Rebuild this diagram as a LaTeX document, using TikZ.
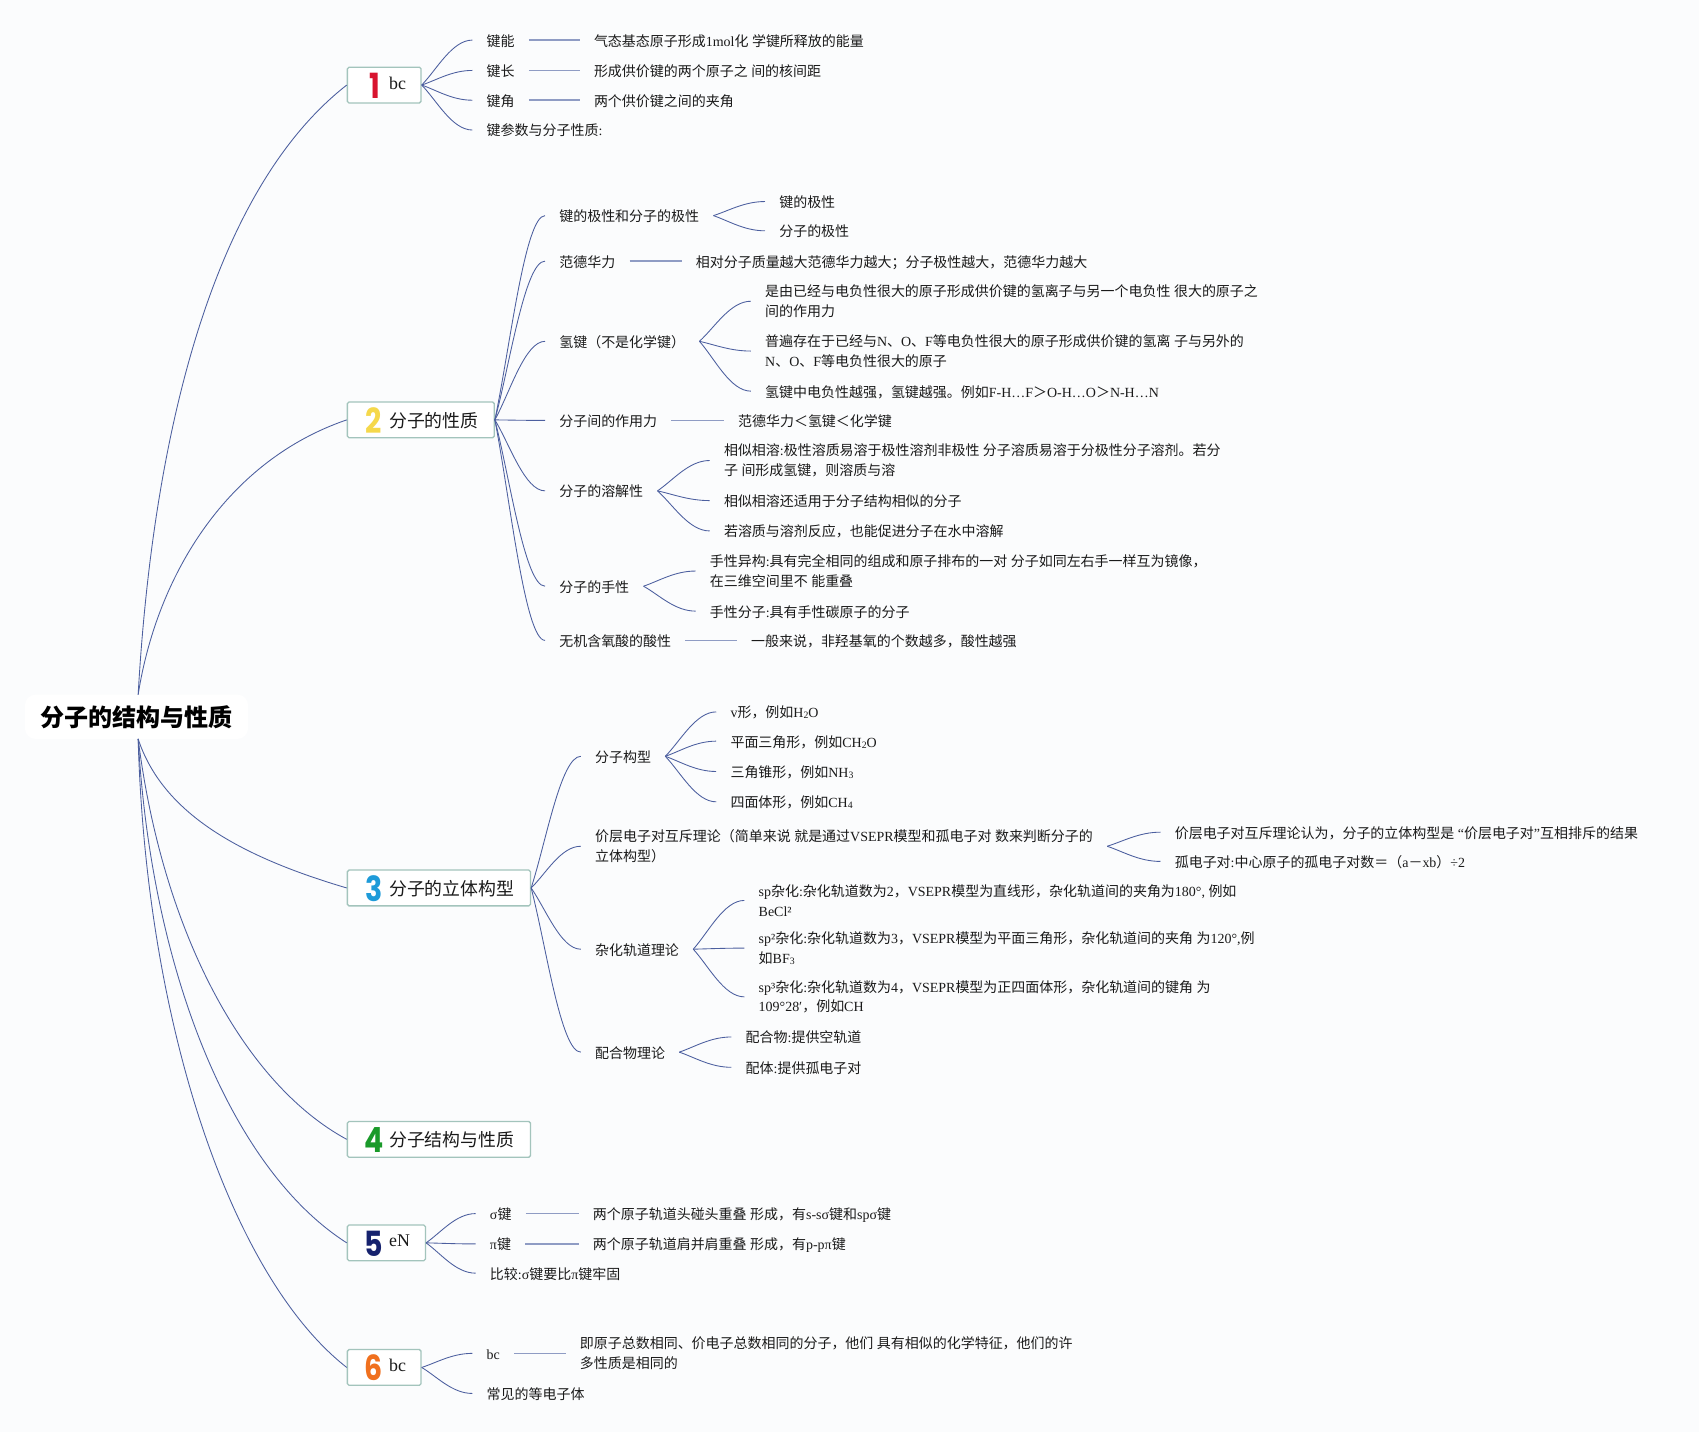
\documentclass[tikz,border=0pt]{standalone}
\usepackage{fontspec}
\usepackage{graphicx}
\usetikzlibrary{calc}
\setmainfont{Liberation Serif}
\newfontfamily\cjk{Noto Sans CJK SC}
\newfontfamily\numf{Poppins}
\XeTeXinterchartokenstate=1
\chardef\cjkcl=10
\newcount\cc
\cc="2E80 \loop\ifnum\cc<"A000 \XeTeXcharclass\cc=\cjkcl \advance\cc by 1 \repeat
\cc="FF00 \loop\ifnum\cc<"FFF0 \XeTeXcharclass\cc=\cjkcl \advance\cc by 1 \repeat
\XeTeXinterchartoks 0 \cjkcl={\cjk}
\XeTeXinterchartoks 1 \cjkcl={\cjk}
\XeTeXinterchartoks 2 \cjkcl={\cjk}
\XeTeXinterchartoks 3 \cjkcl={\cjk}
\XeTeXinterchartoks 4095 \cjkcl={\cjk}
\XeTeXinterchartoks \cjkcl 0={\rmfamily}
\XeTeXinterchartoks \cjkcl 1={\rmfamily}
\XeTeXinterchartoks \cjkcl 2={\rmfamily}
\XeTeXinterchartoks \cjkcl 3={\rmfamily}
\XeTeXinterchartoks \cjkcl 4095={\rmfamily}
\definecolor{bgc}{HTML}{FBFCFD}
\definecolor{linec}{HTML}{4C5F9F}
\definecolor{strc}{HTML}{8F9CC4}
\definecolor{boxc}{HTML}{A3C4BC}
\definecolor{txtc}{HTML}{1A1A1A}
\definecolor{n1}{HTML}{D8142F}
\definecolor{n2}{HTML}{F5D84B}
\definecolor{n3}{HTML}{1E9BD9}
\definecolor{n4}{HTML}{1A9A2A}
\definecolor{n5}{HTML}{16226E}
\definecolor{n6}{HTML}{F0701E}
\newcommand\lsub[1]{\raisebox{-1pt}{\fontsize{9}{9}\selectfont #1}}
\newcommand\dg[1]{\scalebox{.82}[1]{#1}}
\tikzset{
 tx/.style={anchor=west,xshift=-13pt,inner xsep=13pt,inner ysep=0pt,align=left,text=txtc,
   font=\fontsize{12.9}{18}\selectfont,text height=14pt,text depth=3pt},
 txm/.style={tx,text height={},text depth={}},
 bx/.style={draw=boxc,fill=white,line width=1.2pt,rounded corners=1.5pt,anchor=west,inner sep=0pt,minimum height=33pt},
 bl/.style={anchor=west,inner sep=0pt,text=txtc,font=\fontsize{16.5}{18}\selectfont,text height=12pt,text depth=3pt},
 numn/.style={inner sep=0pt,font=\fontsize{32}{32}\numf\bfseries\selectfont},
 conn/.style={draw=linec,line width=0.8pt},
 strline/.style={draw=strc,line width=1.4pt},
}
\newcommand\cv[2]{\draw[conn] let \p1=(#1.east),\p2=(#2.west),\n1={\x2-\x1},\n2={\y2-\y1} in
  (\p1) .. controls (\x1+.3*\n1,\y1+.35*\n2) and (\x1+.6*\n1,\y2) .. (\p2);}
\newcommand\st[2]{\draw[strline] (#1.east) -- (#2.west);}
\begin{document}
\begin{tikzpicture}[x=1pt,y=-1pt]
\useasboundingbox[fill=bgc] (0,0) rectangle (1568,1321.5);
% root
\node[fill=white,rounded corners=10pt,minimum width=206pt,minimum height=41pt,inner sep=0pt,
  font=\fontsize{22.2}{26}\bfseries\selectfont] (root) at (126,661.5) {分子的结构与性质};
\coordinate (rt) at (127.5,641);
\coordinate (rb) at (127.5,682);
% main boxes
\node[bx,minimum width=68pt] (b1) at (320,78.5) {};
\node[bx,minimum width=135.5pt] (b2) at (320,387.5) {};
\node[bx,minimum width=169pt] (b3) at (320,819.5) {};
\node[bx,minimum width=169pt] (b4) at (320,1051.5) {};
\node[bx,minimum width=72pt] (b5) at (320,1147) {};
\node[bx,minimum width=68pt] (b6) at (320,1262) {};
\node[numn,text=n1] (d1) at (345.5,79) {\dg{1}};
\node[numn,text=n2] (d2) at (345,388) {\dg{2}};
\node[numn,text=n3] (d3) at (345,820) {\dg{3}};
\node[numn,text=n4] (d4) at (345,1052) {\dg{4}};
\node[numn,text=n5] (d5) at (345,1147.5) {\dg{5}};
\node[numn,text=n6] (d6) at (345,1262.5) {\dg{6}};
\node[bl] (l1) at (359,78) {bc};
\node[bl] (l2) at (359,390) {分子的性质};
\node[bl] (l3) at (359,822) {分子的立体构型};
\node[bl] (l4) at (359,1054) {分子结构与性质};
\node[bl] (l5) at (359,1146) {eN};
\node[bl] (l6) at (359,1261) {bc};
% root connectors
\draw[conn] (rt) .. controls (140,420) and (190,180) .. (b1.west);
\draw[conn] (rt) .. controls (145,530) and (210,425) .. (b2.west);
\draw[conn] (rb) .. controls (150,750) and (220,790) .. (b3.west);
\draw[conn] (rb) .. controls (150,860) and (225,1000) .. (b4.west);
\draw[conn] (rb) .. controls (140,900) and (215,1080) .. (b5.west);
\draw[conn] (rb) .. controls (135,950) and (215,1180) .. (b6.west);
% branch 1
\node[tx] (a1) at (449,37) {键能};
\node[tx] (a2) at (449,65) {键长};
\node[tx] (a3) at (449,92.5) {键角};
\node[tx] (a4) at (449,120) {键参数与分子性质:};
\node[tx] (a1v) at (548,37) {气态基态原子形成1mol化 学键所释放的能量};
\node[tx] (a2v) at (548,65) {形成供价键的两个原子之 间的核间距};
\node[tx] (a3v) at (548,92.5) {两个供价键之间的夹角};
\cv{b1}{a1}\cv{b1}{a2}\cv{b1}{a3}\cv{b1}{a4}
\st{a1}{a1v}\st{a2}{a2v}\st{a3}{a3v}
% branch 2
\node[tx] (c1) at (516,199) {键的极性和分子的极性};
\node[tx] (c2) at (516,241) {范德华力};
\node[tx] (c3) at (516,315) {氢键（不是化学键）};
\node[tx] (c4) at (516,388) {分子间的作用力};
\node[tx] (c5) at (516,453) {分子的溶解性};
\node[tx] (c6) at (516,541) {分子的手性};
\node[tx] (c7) at (516,591) {无机含氧酸的酸性};
\node[tx] (c1a) at (719,186) {键的极性};
\node[tx] (c1b) at (719,213) {分子的极性};
\node[tx] (c2v) at (642,241) {相对分子质量越大范德华力越大；分子极性越大，范德华力越大};
\node[txm] (c3a) at (706,278) {是由已经与电负性很大的原子形成供价键的氢离子与另一个电负性 很大的原子之\\间的作用力};
\node[txm] (c3b) at (706,324) {普遍存在于已经与N、O、F等电负性很大的原子形成供价键的氢离 子与另外的\\N、O、F等电负性很大的原子};
\node[tx] (c3c) at (706,361) {氢键中电负性越强，氢键越强。例如F-H…F＞O-H…O＞N-H…N};
\node[tx] (c4v) at (681,388) {范德华力＜氢键＜化学键};
\node[txm] (c5a) at (668,425) {相似相溶:极性溶质易溶于极性溶剂非极性 分子溶质易溶于分极性分子溶剂。若分\\子 间形成氢键，则溶质与溶};
\node[tx] (c5b) at (668,462) {相似相溶还适用于分子结构相似的分子};
\node[tx] (c5c) at (668,490) {若溶质与溶剂反应，也能促进分子在水中溶解};
\node[txm] (c6a) at (655,527) {手性异构:具有完全相同的组成和原子排布的一对 分子如同左右手一样互为镜像，\\在三维空间里不 能重叠};
\node[tx] (c6b) at (655,564) {手性分子:具有手性碳原子的分子};
\node[tx] (c7v) at (693,591) {一般来说，非羟基氧的个数越多，酸性越强};
\cv{b2}{c1}\cv{b2}{c2}\cv{b2}{c3}\cv{b2}{c4}\cv{b2}{c5}\cv{b2}{c6}\cv{b2}{c7}
\cv{c1}{c1a}\cv{c1}{c1b}\st{c2}{c2v}
\cv{c3}{c3a}\cv{c3}{c3b}\cv{c3}{c3c}\st{c4}{c4v}
\cv{c5}{c5a}\cv{c5}{c5b}\cv{c5}{c5c}
\cv{c6}{c6a}\cv{c6}{c6b}\st{c7}{c7v}
% branch 3
\node[tx] (e1) at (549,698) {分子构型};
\node[txm] (e2) at (549,781) {价层电子对互斥理论（简单来说 就是通过VSEPR模型和孤电子对 数来判断分子的\\立体构型）};
\node[tx] (e3) at (549,876) {杂化轨道理论};
\node[tx] (e4) at (549,971) {配合物理论};
\node[tx] (e1a) at (674,657) {v形，例如H\lsub{2}O};
\node[tx] (e1b) at (674,684) {平面三角形，例如CH\lsub{2}O};
\node[tx] (e1c) at (674,712) {三角锥形，例如NH\lsub{3}};
\node[tx] (e1d) at (674,740) {四面体形，例如CH\lsub{4}};
\node[tx] (e2a) at (1084,768) {价层电子对互斥理论认为，分子的立体构型是 “价层电子对”互相排斥的结果};
\node[tx] (e2b) at (1084,795) {孤电子对:中心原子的孤电子对数＝（a－xb）÷2};
\node[txm] (e3a) at (700,831) {sp杂化:杂化轨道数为2，VSEPR模型为直线形，杂化轨道间的夹角为180°, 例如\\BeCl²};
\node[txm] (e3b) at (700,875) {sp²杂化:杂化轨道数为3，VSEPR模型为平面三角形，杂化轨道间的夹角 为120°,例\\如BF\lsub{3}};
\node[txm] (e3c) at (700,920) {sp³杂化:杂化轨道数为4，VSEPR模型为正四面体形，杂化轨道间的键角 为\\109°28′，例如CH};
\node[tx] (e4a) at (688,957) {配合物:提供空轨道};
\node[tx] (e4b) at (688,985) {配体:提供孤电子对};
\cv{b3}{e1}\cv{b3}{e2}\cv{b3}{e3}\cv{b3}{e4}
\cv{e1}{e1a}\cv{e1}{e1b}\cv{e1}{e1c}\cv{e1}{e1d}
\cv{e2}{e2a}\cv{e2}{e2b}
\cv{e3}{e3a}\cv{e3}{e3b}\cv{e3}{e3c}
\cv{e4}{e4a}\cv{e4}{e4b}
% branch 5
\node[tx] (f1) at (452,1120) {σ键};
\node[tx] (f2) at (452,1148) {π键};
\node[tx] (f3) at (452,1175) {比较:σ键要比π键牢固};
\node[tx] (f1v) at (547,1120) {两个原子轨道头碰头重叠 形成，有s-sσ键和spσ键};
\node[tx] (f2v) at (547,1148) {两个原子轨道肩并肩重叠 形成，有p-pπ键};
\cv{b5}{f1}\cv{b5}{f2}\cv{b5}{f3}\st{f1}{f1v}\st{f2}{f2v}
% branch 6
\node[tx] (g1) at (449,1249) {bc};
\node[tx] (g2) at (449,1286) {常见的等电子体};
\node[txm] (g1v) at (535,1249) {即原子总数相同、价电子总数相同的分子，他们 具有相似的化学特征，他们的许\\多性质是相同的};
\cv{b6}{g1}\cv{b6}{g2}\st{g1}{g1v}
\end{tikzpicture}
\end{document}
